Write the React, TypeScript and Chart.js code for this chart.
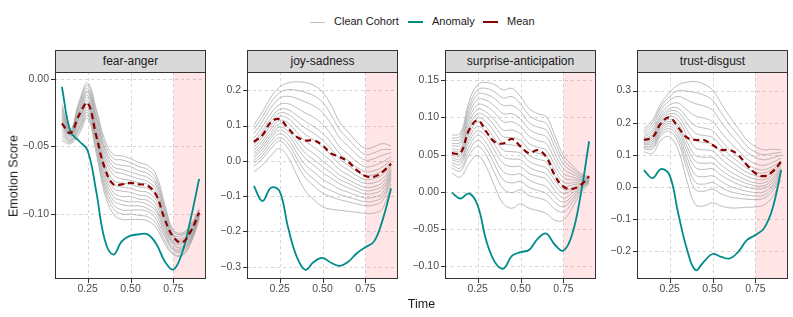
import React, { useEffect, useRef } from "react";
import { Chart, registerables } from "chart.js";

Chart.register(...registerables);

const FONT = '"Liberation Sans", Arial, Helvetica, sans-serif';

// ---------------- data ----------------
const times = [0.1, 0.15, 0.2, 0.25, 0.3, 0.35, 0.4, 0.45, 0.5, 0.55, 0.6, 0.65, 0.7, 0.75, 0.8, 0.85, 0.9];
const xTickValues = [0.25, 0.5, 0.75];
const xLimits = [0.06, 0.94];
const anomalyWindowStart = 0.75;
const panelNames = ["fear-anger", "joy-sadness", "surprise-anticipation", "trust-disgust"];
const legendLabels = ["Clean Cohort", "Anomaly", "Mean"];

const fearAngerCohort = [
  [-0.019, -0.037, -0.017, -0.003, -0.022, -0.045, -0.056, -0.057, -0.059, -0.062, -0.064, -0.071, -0.093, -0.112, -0.114, -0.108, -0.096],
  [-0.021, -0.038, -0.019, -0.005, -0.024, -0.048, -0.059, -0.060, -0.062, -0.065, -0.067, -0.074, -0.095, -0.113, -0.115, -0.109, -0.097],
  [-0.023, -0.039, -0.020, -0.007, -0.027, -0.051, -0.062, -0.064, -0.065, -0.068, -0.070, -0.077, -0.097, -0.115, -0.116, -0.110, -0.097],
  [-0.025, -0.039, -0.022, -0.009, -0.029, -0.053, -0.065, -0.067, -0.069, -0.071, -0.073, -0.079, -0.099, -0.116, -0.118, -0.111, -0.098],
  [-0.027, -0.040, -0.024, -0.010, -0.031, -0.056, -0.068, -0.070, -0.072, -0.074, -0.076, -0.082, -0.101, -0.117, -0.119, -0.112, -0.098],
  [-0.029, -0.041, -0.025, -0.012, -0.034, -0.059, -0.071, -0.074, -0.075, -0.077, -0.078, -0.085, -0.103, -0.118, -0.120, -0.113, -0.099],
  [-0.030, -0.042, -0.027, -0.014, -0.036, -0.062, -0.075, -0.077, -0.078, -0.080, -0.081, -0.087, -0.105, -0.120, -0.121, -0.114, -0.099],
  [-0.032, -0.042, -0.029, -0.016, -0.038, -0.065, -0.078, -0.080, -0.081, -0.083, -0.084, -0.090, -0.107, -0.121, -0.122, -0.115, -0.100],
  [-0.034, -0.043, -0.030, -0.018, -0.041, -0.067, -0.081, -0.083, -0.084, -0.086, -0.087, -0.093, -0.109, -0.122, -0.124, -0.116, -0.101],
  [-0.036, -0.044, -0.032, -0.019, -0.043, -0.070, -0.084, -0.087, -0.087, -0.089, -0.090, -0.096, -0.111, -0.123, -0.125, -0.117, -0.101],
  [-0.038, -0.045, -0.034, -0.021, -0.045, -0.073, -0.087, -0.090, -0.091, -0.091, -0.093, -0.098, -0.113, -0.125, -0.126, -0.118, -0.102],
  [-0.040, -0.046, -0.036, -0.023, -0.047, -0.076, -0.090, -0.093, -0.094, -0.094, -0.096, -0.101, -0.115, -0.126, -0.127, -0.119, -0.102],
  [-0.042, -0.046, -0.037, -0.025, -0.050, -0.079, -0.093, -0.097, -0.097, -0.097, -0.098, -0.104, -0.117, -0.127, -0.128, -0.120, -0.103],
  [-0.044, -0.047, -0.039, -0.027, -0.052, -0.082, -0.096, -0.100, -0.100, -0.101, -0.102, -0.107, -0.120, -0.129, -0.130, -0.121, -0.103],
  [-0.046, -0.048, -0.041, -0.029, -0.055, -0.085, -0.100, -0.104, -0.104, -0.104, -0.105, -0.110, -0.122, -0.130, -0.131, -0.122, -0.104],
];
const fearAngerMean = [-0.033, -0.040, -0.027, -0.018, -0.042, -0.066, -0.078, -0.078, -0.077, -0.078, -0.079, -0.086, -0.104, -0.117, -0.121, -0.113, -0.099];
const fearAngerAnomaly = [-0.006, -0.039, -0.046, -0.053, -0.083, -0.119, -0.130, -0.120, -0.116, -0.115, -0.115, -0.122, -0.135, -0.141, -0.129, -0.104, -0.074];

const joySadnessCohort = [
  [0.101, 0.139, 0.181, 0.209, 0.221, 0.224, 0.222, 0.214, 0.195, 0.158, 0.110, 0.082, 0.054, 0.035, 0.040, 0.049, 0.042],
  [0.089, 0.125, 0.166, 0.193, 0.202, 0.200, 0.194, 0.185, 0.166, 0.131, 0.088, 0.062, 0.036, 0.018, 0.023, 0.032, 0.032],
  [0.077, 0.112, 0.151, 0.178, 0.183, 0.177, 0.167, 0.156, 0.137, 0.105, 0.065, 0.042, 0.018, 0.002, 0.006, 0.016, 0.023],
  [0.064, 0.097, 0.135, 0.160, 0.162, 0.150, 0.136, 0.123, 0.104, 0.075, 0.040, 0.019, -0.002, -0.017, -0.013, -0.003, 0.012],
  [0.054, 0.085, 0.121, 0.146, 0.145, 0.129, 0.112, 0.097, 0.078, 0.052, 0.020, 0.001, -0.018, -0.031, -0.028, -0.017, 0.004],
  [0.046, 0.076, 0.111, 0.136, 0.132, 0.113, 0.093, 0.078, 0.059, 0.034, 0.005, -0.013, -0.030, -0.042, -0.039, -0.028, -0.003],
  [0.038, 0.067, 0.101, 0.126, 0.120, 0.097, 0.075, 0.059, 0.039, 0.016, -0.010, -0.026, -0.042, -0.053, -0.050, -0.039, -0.009],
  [0.030, 0.057, 0.091, 0.115, 0.107, 0.081, 0.056, 0.039, 0.020, -0.001, -0.025, -0.040, -0.054, -0.064, -0.062, -0.050, -0.016],
  [0.022, 0.048, 0.081, 0.105, 0.094, 0.066, 0.038, 0.020, 0.000, -0.019, -0.040, -0.053, -0.066, -0.075, -0.073, -0.061, -0.022],
  [0.015, 0.041, 0.073, 0.096, 0.084, 0.052, 0.022, 0.003, -0.016, -0.034, -0.053, -0.064, -0.076, -0.085, -0.082, -0.071, -0.028],
  [0.009, 0.033, 0.065, 0.087, 0.073, 0.039, 0.007, -0.013, -0.033, -0.049, -0.065, -0.076, -0.086, -0.094, -0.092, -0.080, -0.033],
  [0.001, 0.024, 0.055, 0.077, 0.061, 0.023, -0.011, -0.032, -0.052, -0.066, -0.080, -0.089, -0.098, -0.105, -0.103, -0.091, -0.039],
  [-0.007, 0.015, 0.045, 0.066, 0.048, 0.008, -0.030, -0.052, -0.072, -0.084, -0.095, -0.103, -0.110, -0.116, -0.114, -0.102, -0.046],
  [-0.015, 0.006, 0.035, 0.056, 0.035, -0.008, -0.048, -0.071, -0.091, -0.102, -0.110, -0.116, -0.122, -0.127, -0.125, -0.113, -0.052],
  [-0.031, -0.012, 0.015, 0.035, 0.010, -0.040, -0.085, -0.110, -0.130, -0.137, -0.140, -0.143, -0.146, -0.149, -0.148, -0.135, -0.065],
];
const joySadnessMean = [0.054, 0.073, 0.110, 0.118, 0.092, 0.068, 0.058, 0.058, 0.044, 0.021, 0.011, -0.003, -0.026, -0.043, -0.045, -0.031, -0.008];
const joySadnessAnomaly = [-0.071, -0.114, -0.076, -0.086, -0.190, -0.272, -0.309, -0.286, -0.275, -0.289, -0.298, -0.286, -0.262, -0.245, -0.229, -0.168, -0.078];

const surpriseAnticipationCohort = [
  [0.076, 0.079, 0.121, 0.144, 0.147, 0.144, 0.137, 0.139, 0.128, 0.112, 0.105, 0.101, 0.076, 0.049, 0.036, 0.025, 0.020],
  [0.072, 0.075, 0.115, 0.137, 0.139, 0.134, 0.126, 0.128, 0.118, 0.103, 0.096, 0.092, 0.068, 0.043, 0.032, 0.023, 0.019],
  [0.069, 0.071, 0.109, 0.131, 0.131, 0.125, 0.116, 0.116, 0.108, 0.093, 0.087, 0.083, 0.060, 0.037, 0.028, 0.021, 0.019],
  [0.065, 0.067, 0.104, 0.124, 0.123, 0.115, 0.105, 0.105, 0.098, 0.084, 0.078, 0.074, 0.052, 0.031, 0.024, 0.019, 0.018],
  [0.062, 0.063, 0.098, 0.117, 0.115, 0.106, 0.094, 0.094, 0.088, 0.075, 0.069, 0.065, 0.044, 0.025, 0.020, 0.017, 0.018],
  [0.058, 0.058, 0.092, 0.111, 0.107, 0.096, 0.083, 0.083, 0.078, 0.065, 0.060, 0.056, 0.036, 0.019, 0.016, 0.016, 0.017],
  [0.055, 0.055, 0.087, 0.105, 0.101, 0.088, 0.074, 0.073, 0.069, 0.057, 0.052, 0.048, 0.029, 0.013, 0.012, 0.014, 0.016],
  [0.052, 0.051, 0.082, 0.099, 0.094, 0.080, 0.065, 0.063, 0.060, 0.049, 0.044, 0.040, 0.022, 0.008, 0.009, 0.012, 0.016],
  [0.049, 0.048, 0.077, 0.094, 0.087, 0.071, 0.056, 0.054, 0.052, 0.041, 0.036, 0.032, 0.016, 0.003, 0.005, 0.011, 0.015],
  [0.046, 0.044, 0.072, 0.088, 0.080, 0.063, 0.047, 0.044, 0.043, 0.033, 0.028, 0.024, 0.009, -0.002, 0.002, 0.009, 0.015],
  [0.043, 0.041, 0.067, 0.082, 0.074, 0.055, 0.038, 0.034, 0.034, 0.025, 0.021, 0.017, 0.002, -0.008, -0.002, 0.007, 0.014],
  [0.039, 0.037, 0.061, 0.076, 0.066, 0.045, 0.027, 0.023, 0.024, 0.016, 0.011, 0.007, -0.006, -0.014, -0.006, 0.006, 0.014],
  [0.036, 0.032, 0.055, 0.069, 0.058, 0.036, 0.016, 0.012, 0.014, 0.006, 0.002, -0.002, -0.014, -0.020, -0.010, 0.004, 0.013],
  [0.032, 0.028, 0.049, 0.061, 0.049, 0.025, 0.004, -0.001, 0.003, -0.005, -0.008, -0.012, -0.023, -0.027, -0.015, 0.002, 0.012],
  [0.025, 0.020, 0.038, 0.049, 0.034, 0.007, -0.016, -0.022, -0.016, -0.022, -0.025, -0.029, -0.038, -0.038, -0.022, -0.002, 0.011],
];
const surpriseAnticipationMean = [0.052, 0.052, 0.083, 0.096, 0.081, 0.067, 0.065, 0.071, 0.061, 0.052, 0.056, 0.047, 0.022, 0.007, 0.004, 0.009, 0.021];
const surpriseAnticipationAnomaly = [-0.001, -0.009, -0.002, -0.018, -0.065, -0.094, -0.103, -0.086, -0.081, -0.078, -0.063, -0.056, -0.071, -0.079, -0.058, -0.005, 0.068];

const trustDisgustCohort = [
  [0.182, 0.208, 0.260, 0.294, 0.318, 0.326, 0.328, 0.320, 0.302, 0.260, 0.219, 0.182, 0.146, 0.125, 0.115, 0.117, 0.115],
  [0.175, 0.199, 0.250, 0.282, 0.300, 0.298, 0.294, 0.286, 0.270, 0.231, 0.193, 0.160, 0.127, 0.108, 0.100, 0.104, 0.107],
  [0.169, 0.189, 0.240, 0.269, 0.282, 0.271, 0.259, 0.252, 0.239, 0.202, 0.168, 0.137, 0.108, 0.091, 0.084, 0.090, 0.098],
  [0.162, 0.179, 0.228, 0.255, 0.261, 0.240, 0.221, 0.214, 0.203, 0.170, 0.139, 0.113, 0.087, 0.072, 0.067, 0.076, 0.089],
  [0.156, 0.171, 0.219, 0.244, 0.245, 0.216, 0.190, 0.183, 0.175, 0.145, 0.116, 0.093, 0.070, 0.057, 0.053, 0.064, 0.081],
  [0.151, 0.164, 0.212, 0.236, 0.233, 0.198, 0.167, 0.160, 0.154, 0.126, 0.099, 0.078, 0.058, 0.046, 0.043, 0.055, 0.076],
  [0.147, 0.158, 0.205, 0.228, 0.221, 0.179, 0.144, 0.138, 0.133, 0.106, 0.082, 0.063, 0.045, 0.035, 0.032, 0.046, 0.070],
  [0.143, 0.152, 0.198, 0.220, 0.208, 0.161, 0.121, 0.115, 0.112, 0.087, 0.065, 0.048, 0.033, 0.024, 0.022, 0.037, 0.064],
  [0.138, 0.146, 0.192, 0.211, 0.196, 0.142, 0.098, 0.092, 0.091, 0.068, 0.048, 0.033, 0.020, 0.012, 0.012, 0.028, 0.059],
  [0.135, 0.140, 0.186, 0.204, 0.186, 0.127, 0.079, 0.073, 0.073, 0.052, 0.034, 0.021, 0.010, 0.003, 0.003, 0.021, 0.054],
  [0.131, 0.135, 0.180, 0.197, 0.176, 0.112, 0.060, 0.054, 0.056, 0.036, 0.020, 0.008, -0.001, -0.007, -0.005, 0.013, 0.049],
  [0.126, 0.129, 0.173, 0.189, 0.164, 0.093, 0.037, 0.031, 0.034, 0.017, 0.002, -0.007, -0.014, -0.018, -0.016, 0.005, 0.044],
  [0.122, 0.123, 0.167, 0.181, 0.152, 0.075, 0.014, 0.008, 0.013, -0.002, -0.015, -0.021, -0.026, -0.029, -0.026, -0.004, 0.038],
  [0.118, 0.117, 0.160, 0.173, 0.139, 0.057, -0.009, -0.014, -0.008, -0.022, -0.032, -0.036, -0.039, -0.040, -0.036, -0.013, 0.032],
  [0.109, 0.104, 0.146, 0.156, 0.115, 0.020, -0.055, -0.060, -0.050, -0.060, -0.066, -0.066, -0.064, -0.063, -0.057, -0.031, 0.021],
];
const trustDisgustMean = [0.146, 0.154, 0.198, 0.216, 0.185, 0.154, 0.146, 0.146, 0.130, 0.115, 0.115, 0.099, 0.068, 0.042, 0.033, 0.047, 0.078];
const trustDisgustAnomaly = [0.052, 0.027, 0.055, 0.036, -0.083, -0.193, -0.260, -0.234, -0.210, -0.219, -0.224, -0.203, -0.167, -0.151, -0.130, -0.068, 0.052];

const fearAngerYTicks = [-0.1, -0.05, 0];
const joySadnessYTicks = [-0.3, -0.2, -0.1, 0, 0.1, 0.2];
const surpriseAnticipationYTicks = [-0.1, -0.05, 0, 0.05, 0.1, 0.15];
const trustDisgustYTicks = [-0.2, -0.1, 0, 0.1, 0.2, 0.3];
const yLimits = [
  [-0.148, 0.005],
  [-0.335, 0.252],
  [-0.117, 0.161],
  [-0.288, 0.358],
];
const yDecimals = [2, 1, 2, 1];

const cohortSets = [fearAngerCohort, joySadnessCohort, surpriseAnticipationCohort, trustDisgustCohort];
const meanSets = [fearAngerMean, joySadnessMean, surpriseAnticipationMean, trustDisgustMean];
const anomalySets = [fearAngerAnomaly, joySadnessAnomaly, surpriseAnticipationAnomaly, trustDisgustAnomaly];
const yTickSets = [fearAngerYTicks, joySadnessYTicks, surpriseAnticipationYTicks, trustDisgustYTicks];

// ---------------- styling / layout ----------------
const COHORT_COLOR = "rgba(160,160,160,0.7)";
const ANOMALY_COLOR = "#008B8B";
const MEAN_COLOR = "#8B0000";
const PANEL_LEFTS = [55, 247, 445, 637];
const PANEL_W = 151;
const PANEL_TOP = 72;
const PANEL_H = 207;
const Y_AXIS_W = 48;
const X_AXIS_H = 22;
const PAD = 2;

function fmt(v: number, d: number) {
  const s = Math.abs(v).toFixed(d);
  return v < -1e-9 ? "\u2212" + s : s;
}

const decorPlugin = {
  id: "panelDecor",
  beforeDatasetsDraw(chart: any, _args: any, opts: any) {
    const { ctx, chartArea: a, scales } = chart;
    const x = scales.x;
    const y = scales.y;
    ctx.save();
    ctx.beginPath();
    ctx.rect(a.left, a.top, a.right - a.left, a.bottom - a.top);
    ctx.clip();
    ctx.strokeStyle = "#D6D6D6";
    ctx.lineWidth = 1;
    ctx.setLineDash([3, 3]);
    for (const t of opts.xTicks) {
      const px = Math.round(x.getPixelForValue(t)) + 0.5;
      ctx.beginPath();
      ctx.moveTo(px, a.top);
      ctx.lineTo(px, a.bottom);
      ctx.stroke();
    }
    for (const t of opts.yTicks) {
      const py = Math.round(y.getPixelForValue(t)) + 0.5;
      ctx.beginPath();
      ctx.moveTo(a.left, py);
      ctx.lineTo(a.right, py);
      ctx.stroke();
    }
    ctx.setLineDash([]);
    const sx = x.getPixelForValue(opts.shadeStart);
    ctx.fillStyle = "rgba(255,0,0,0.1)";
    ctx.fillRect(sx, a.top, a.right - sx, a.bottom - a.top);
    ctx.restore();
  },
  afterDraw(chart: any, _args: any, opts: any) {
    const { ctx, chartArea: a, scales } = chart;
    const x = scales.x;
    const y = scales.y;
    ctx.save();
    ctx.strokeStyle = "#333333";
    ctx.lineWidth = 1;
    ctx.strokeRect(a.left + 0.5, a.top + 0.5, a.right - a.left - 1, a.bottom - a.top - 1);
    for (const t of opts.xTicks) {
      const px = Math.round(x.getPixelForValue(t)) + 0.5;
      ctx.beginPath();
      ctx.moveTo(px, a.bottom);
      ctx.lineTo(px, a.bottom + 4);
      ctx.stroke();
    }
    for (const t of opts.yTicks) {
      const py = Math.round(y.getPixelForValue(t)) + 0.5;
      ctx.beginPath();
      ctx.moveTo(a.left - 4, py);
      ctx.lineTo(a.left, py);
      ctx.stroke();
    }
    ctx.restore();
  },
};

function toPoints(values: number[]) {
  return times.map((t, i) => ({ x: t, y: values[i] }));
}

function Panel({ index }: { index: number }) {
  const ref = useRef<HTMLCanvasElement>(null);
  const W = Y_AXIS_W + PANEL_W + PAD;
  const H = PAD + PANEL_H + X_AXIS_H;
  useEffect(() => {
    const canvas = ref.current;
    if (!canvas) return;
    const yTicks = yTickSets[index];
    const dec = yDecimals[index];
    const datasets: any[] = [
      {
        label: "Mean",
        data: toPoints(meanSets[index]),
        borderColor: MEAN_COLOR,
        borderWidth: 2.2,
        borderDash: [6, 4],
        pointRadius: 0,
        tension: 0.4,
        fill: false,
      },
      {
        label: "Anomaly",
        data: toPoints(anomalySets[index]),
        borderColor: ANOMALY_COLOR,
        borderWidth: 1.8,
        pointRadius: 0,
        tension: 0.4,
        fill: false,
      },
      ...cohortSets[index].map((line, k) => ({
        label: "Clean Cohort " + (k + 1),
        data: toPoints(line),
        borderColor: COHORT_COLOR,
        borderWidth: 1,
        pointRadius: 0,
        tension: 0.4,
        fill: false,
      })),
    ];
    const chart = new Chart(canvas, {
      type: "line",
      data: { datasets },
      options: {
        animation: false,
        responsive: false,
        maintainAspectRatio: false,
        devicePixelRatio: 1,
        events: [],
        layout: { padding: { top: PAD, right: PAD, left: 0, bottom: 0 } },
        plugins: {
          legend: { display: false },
          tooltip: { enabled: false },
          title: { display: false },
          panelDecor: { xTicks: xTickValues, yTicks, shadeStart: anomalyWindowStart },
        } as any,
        scales: {
          x: {
            type: "linear",
            min: xLimits[0],
            max: xLimits[1],
            grid: { display: false, drawTicks: false },
            border: { display: false },
            ticks: {
              autoSkip: false,
              maxRotation: 0,
              minRotation: 0,
              padding: 4,
              color: "#4D4D4D",
              font: { family: FONT, size: 10.5 },
              callback: (v: any) => fmt(Number(v), 2),
            },
            afterBuildTicks: (ax: any) => {
              ax.ticks = xTickValues.map((v) => ({ value: v }));
            },
            afterFit: (ax: any) => {
              ax.height = X_AXIS_H;
              ax.paddingLeft = 0;
              ax.paddingRight = 0;
            },
          },
          y: {
            type: "linear",
            min: yLimits[index][0],
            max: yLimits[index][1],
            grid: { display: false, drawTicks: false },
            border: { display: false },
            ticks: {
              autoSkip: false,
              padding: 6,
              color: "#4D4D4D",
              font: { family: FONT, size: 10.5 },
              callback: (v: any) => fmt(Number(v), dec),
            },
            afterBuildTicks: (ax: any) => {
              ax.ticks = yTicks.map((v) => ({ value: v }));
            },
            afterFit: (ax: any) => {
              ax.width = Y_AXIS_W;
              ax.paddingTop = 0;
              ax.paddingBottom = 0;
            },
          },
        },
      } as any,
      plugins: [decorPlugin as any],
    });
    return () => chart.destroy();
  }, [index]);
  return (
    <canvas
      ref={ref}
      width={W}
      height={H}
      style={{
        position: "absolute",
        left: PANEL_LEFTS[index] - Y_AXIS_W,
        top: PANEL_TOP - PAD,
        width: W,
        height: H,
      }}
    />
  );
}

function Strip({ index }: { index: number }) {
  return (
    <div
      style={{
        position: "absolute",
        left: PANEL_LEFTS[index],
        top: 50,
        width: PANEL_W,
        height: 23,
        boxSizing: "border-box",
        border: "1px solid #333333",
        background: "#D9D9D9",
        color: "#1A1A1A",
        fontFamily: FONT,
        fontSize: 12,
        lineHeight: "21px",
        textAlign: "center",
        whiteSpace: "nowrap",
      }}
    >
      {panelNames[index]}
    </div>
  );
}

function LegendKey({ left, color, thickness }: { left: number; color: string; thickness: number }) {
  return (
    <div
      style={{
        position: "absolute",
        left,
        top: 22 - thickness / 2,
        width: 15,
        height: thickness,
        background: color,
      }}
    />
  );
}

function LegendText({ left, text }: { left: number; text: string }) {
  return (
    <div
      style={{
        position: "absolute",
        left,
        top: 15,
        fontFamily: FONT,
        fontSize: 11,
        lineHeight: "13px",
        color: "#1A1A1A",
        whiteSpace: "nowrap",
      }}
    >
      {text}
    </div>
  );
}

export default function App() {
  return (
    <div
      style={{
        position: "absolute",
        left: 0,
        top: 0,
        width: 793,
        height: 317,
        background: "#FFFFFF",
        overflow: "hidden",
      }}
    >
      <LegendKey left={310} color="#BDBDBD" thickness={1} />
      <LegendText left={334} text={legendLabels[0]} />
      <LegendKey left={408} color={ANOMALY_COLOR} thickness={2} />
      <LegendText left={432} text={legendLabels[1]} />
      <LegendKey left={483} color={MEAN_COLOR} thickness={2} />
      <LegendText left={507} text={legendLabels[2]} />

      {[0, 1, 2, 3].map((i) => (
        <Strip key={"s" + i} index={i} />
      ))}
      {[0, 1, 2, 3].map((i) => (
        <Panel key={"p" + i} index={i} />
      ))}

      <div
        style={{
          position: "absolute",
          left: 421.5,
          top: 297,
          transform: "translateX(-50%)",
          fontFamily: FONT,
          fontSize: 12.5,
          lineHeight: "15px",
          color: "#1A1A1A",
          whiteSpace: "nowrap",
        }}
      >
        Time
      </div>
      <div
        style={{
          position: "absolute",
          left: 13.5,
          top: 175.5,
          transform: "translate(-50%, -50%) rotate(-90deg)",
          fontFamily: FONT,
          fontSize: 12.5,
          lineHeight: "15px",
          color: "#1A1A1A",
          whiteSpace: "nowrap",
        }}
      >
        Emotion Score
      </div>
    </div>
  );
}
